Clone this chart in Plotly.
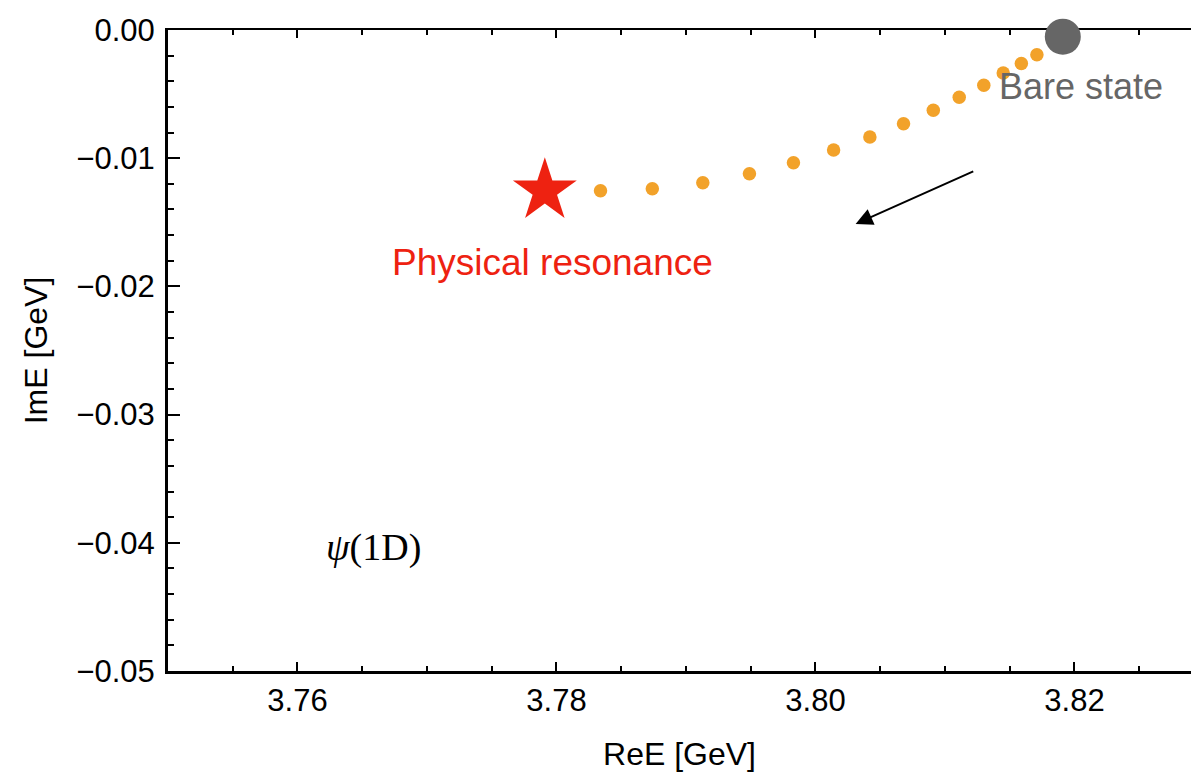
import plotly.graph_objects as go

# Data
path_re = [3.7834, 3.7874, 3.7913, 3.7949, 3.7983, 3.8014, 3.8042, 3.8068,
           3.8091, 3.8111, 3.8130, 3.8145, 3.8159, 3.8171]
path_im = [-0.01254, -0.01238, -0.01191, -0.01121, -0.01035, -0.00936, -0.00835,
           -0.00731, -0.00626, -0.00525, -0.00431, -0.00335, -0.00261, -0.00193]
phys_re = [3.7791]
phys_im = [-0.01254]
bare_re = [3.8191]
bare_im = [-0.00052]
x_ticks = [3.76, 3.78, 3.80, 3.82]
x_tick_text = ["3.76", "3.78", "3.80", "3.82"]
y_ticks = [0.0, -0.01, -0.02, -0.03, -0.04, -0.05]
y_tick_text = ["0.00", "\u22120.01", "\u22120.02", "\u22120.03", "\u22120.04", "\u22120.05"]

X_RANGE = [3.75, 3.8290]
Y_RANGE = [-0.05, 0.0]

ORANGE = "#F2A22A"
RED = "#EE2211"
GRAY = "#666666"
FONT = "Liberation Sans, Arial, Helvetica, sans-serif"

fig = go.Figure()

fig.add_trace(go.Scatter(
    x=path_re, y=path_im, mode="markers",
    marker=dict(color=ORANGE, size=13.5, line=dict(width=0)),
    cliponaxis=False, showlegend=False, hoverinfo="skip"))
fig.add_trace(go.Scatter(
    x=phys_re, y=phys_im, mode="markers",
    marker=dict(color=RED, size=48, symbol="star", line=dict(width=0)),
    cliponaxis=False, showlegend=False, hoverinfo="skip"))
fig.add_trace(go.Scatter(
    x=bare_re, y=bare_im, mode="markers",
    marker=dict(color=GRAY, size=36, line=dict(width=0)),
    cliponaxis=False, showlegend=False, hoverinfo="skip"))
# invisible trace to anchor top frame axis
fig.add_trace(go.Scatter(x=[X_RANGE[0]], y=[Y_RANGE[0]], xaxis="x2", mode="markers",
                         marker=dict(opacity=0), showlegend=False, hoverinfo="skip"))

# Arrow
fig.add_annotation(x=3.8031, y=-0.01513, ax=3.8123, ay=-0.01098,
                   xref="x", yref="y", axref="x", ayref="y",
                   showarrow=True, arrowhead=2, arrowsize=1.7, arrowwidth=2,
                   arrowcolor="black", text="")

fig.add_annotation(x=3.7797, y=-0.0181, xref="x", yref="y", text="Physical resonance",
                   showarrow=False, font=dict(family=FONT, size=37, color=RED),
                   xanchor="center", yanchor="middle")
fig.add_annotation(x=3.8205, y=-0.00437, xref="x", yref="y", text="Bare state",
                   showarrow=False, font=dict(family=FONT, size=36, color=GRAY),
                   xanchor="center", yanchor="middle")
fig.add_annotation(x=3.7659, y=-0.0404, xref="x", yref="y", text="<i>\u03c8</i>(1D)",
                   showarrow=False,
                   font=dict(family="Liberation Serif, Times New Roman, serif", size=38, color="black"),
                   xanchor="center", yanchor="middle")

fig.update_layout(
    width=1191, height=775,
    margin=dict(l=168, r=0, t=30, b=104),
    paper_bgcolor="white", plot_bgcolor="white",
    font=dict(family=FONT, size=31, color="black"),
    xaxis=dict(
        range=X_RANGE, showgrid=False, zeroline=False,
        showline=True, linecolor="black", linewidth=3,
        ticks="inside", ticklen=9, tickwidth=2, tickcolor="black",
        tickvals=x_ticks, ticktext=x_tick_text,
        minor=dict(dtick=0.005, tick0=3.75, ticks="inside", ticklen=5, tickwidth=2,
                   tickcolor="black", showgrid=False),
        title=dict(text="ReE [GeV]", font=dict(size=32), standoff=26),
        mirror=False,
    ),
    xaxis2=dict(
        range=X_RANGE, overlaying="x", side="top", anchor="y", matches="x",
        showgrid=False, zeroline=False, showline=True, linecolor="black", linewidth=1.5,
        ticks="inside", ticklen=8, tickwidth=1.5, tickcolor="black",
        tickvals=x_ticks, showticklabels=False,
        minor=dict(dtick=0.005, tick0=3.75, ticks="inside", ticklen=5, tickwidth=1.5,
                   tickcolor="black", showgrid=False),
        layer="below traces",
    ),
    yaxis=dict(
        range=Y_RANGE, showgrid=False, zeroline=False,
        showline=True, linecolor="black", linewidth=3,
        ticks="inside", ticklen=12, tickwidth=2, tickcolor="black",
        tickvals=y_ticks, ticktext=y_tick_text,
        minor=dict(dtick=0.002, tick0=0, ticks="inside", ticklen=6, tickwidth=2,
                   tickcolor="black", showgrid=False),
        ticklabelstandoff=4,
        title=dict(text="ImE [GeV]", font=dict(size=32), standoff=20),
    ),
)

fig.write_html("out.html")
